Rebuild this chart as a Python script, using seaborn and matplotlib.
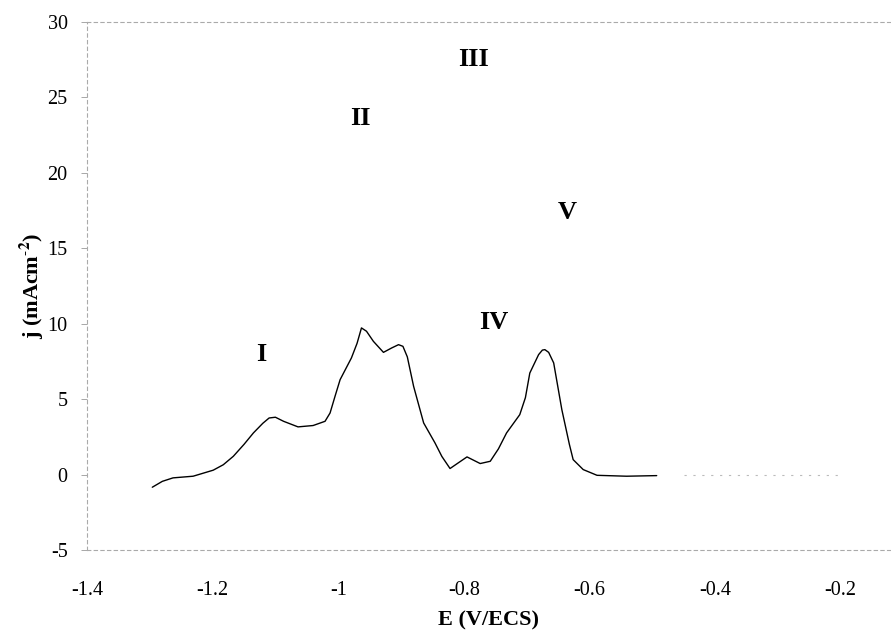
import pandas as pd
import matplotlib.pyplot as plt
import seaborn as sns

sns.set_theme(style="white")
plt.rcParams["font.family"] = ["Liberation Serif", "DejaVu Serif"]
plt.rcParams["mathtext.fontset"] = "stix"
plt.rcParams["axes.unicode_minus"] = False

# potential (V/ECS) and current density (mA/cm2)
potential = [-1.296, -1.280, -1.263, -1.231, -1.199, -1.183, -1.167, -1.150, -1.135,
             -1.120, -1.110, -1.100, -1.087, -1.064, -1.040, -1.021, -1.013, -1.005, -0.997,
             -0.979, -0.970, -0.963, -0.955, -0.944, -0.928, -0.915, -0.904, -0.897,
             -0.890, -0.880, -0.864,
             -0.846, -0.835, -0.822, -0.808, -0.795, -0.774, -0.758, -0.745, -0.732,
             -0.711, -0.702, -0.695, -0.681, -0.675, -0.671, -0.665, -0.657, -0.644,
             -0.632, -0.626, -0.610, -0.588, -0.541, -0.493]
current = [-0.84, -0.45, -0.22, -0.11, 0.29, 0.65, 1.21, 2.00, 2.76,
           3.40, 3.75, 3.80, 3.53, 3.16, 3.25, 3.53, 4.08, 5.20, 6.29,
           7.73, 8.70, 9.72, 9.50, 8.83, 8.10, 8.39, 8.61, 8.50,
           7.80, 5.85, 3.42,
           2.10, 1.20, 0.40, 0.80, 1.17, 0.73, 0.88, 1.70, 2.76,
           3.97, 5.10, 6.73, 7.95, 8.25, 8.28, 8.10, 7.40, 4.30,
           2.00, 0.99, 0.33, -0.05, -0.11, -0.07]

peak_names = ["I", "II", "III", "IV", "V"]
peak_E = [-1.123, -0.965, -0.785, -0.753, -0.636]
peak_j = [7.95, 23.6, 27.5, 10.1, 17.4]

x_ticks = [-1.4, -1.2, -1.0, -0.8, -0.6, -0.4, -0.2]
x_tick_labels = ["-1.4", "-1.2", "-1", "-0.8", "-0.6", "-0.4", "-0.2"]
y_ticks = [-5, 0, 5, 10, 15, 20, 25, 30]

df = pd.DataFrame({"E": potential, "j": current})

fig = plt.figure(figsize=(8.91, 6.37), dpi=100)
ax = fig.add_axes([0.0976, 0.1366, 0.9024, 0.8289])

sns.lineplot(data=df, x="E", y="j", ax=ax, color="black", linewidth=1.0, sort=False)

# faint baseline of the scan on the right side
ax.plot([-0.45, -0.2], [0, 0], color="#bbbbbb", linewidth=0.8, linestyle=(0, (2, 6)))

for name, e, j in zip(peak_names, peak_E, peak_j):
    ax.text(e, j, name, fontsize=19, fontweight="bold", ha="center", va="center",
            color="black")

ax.set_xlim(-1.4, -0.12)
ax.set_ylim(-5, 30)
ax.set_xticks(x_ticks)
ax.set_xticklabels(x_tick_labels)
ax.set_yticks(y_ticks)
ax.tick_params(axis="both", labelsize=14.5, labelcolor="black")
ax.tick_params(axis="y", left=True, length=4, width=0.6, color="#999999", pad=10)
ax.tick_params(axis="x", bottom=False, pad=16)

for side in ["top", "bottom", "left"]:
    ax.spines[side].set_visible(True)
    ax.spines[side].set_color("#aaaaaa")
    ax.spines[side].set_linewidth(0.8)
    ax.spines[side].set_linestyle((0, (3, 3)))
ax.spines["right"].set_visible(False)

ax.set_xlabel("E (V/ECS)", fontsize=16, fontweight="bold", labelpad=8, color="black")
ax.set_ylabel(r"j (mAcm$^{\mathbf{\text{-}2}}$)", fontsize=16, fontweight="bold",
              labelpad=1, color="black")

fig.savefig("out.png", dpi=100)
